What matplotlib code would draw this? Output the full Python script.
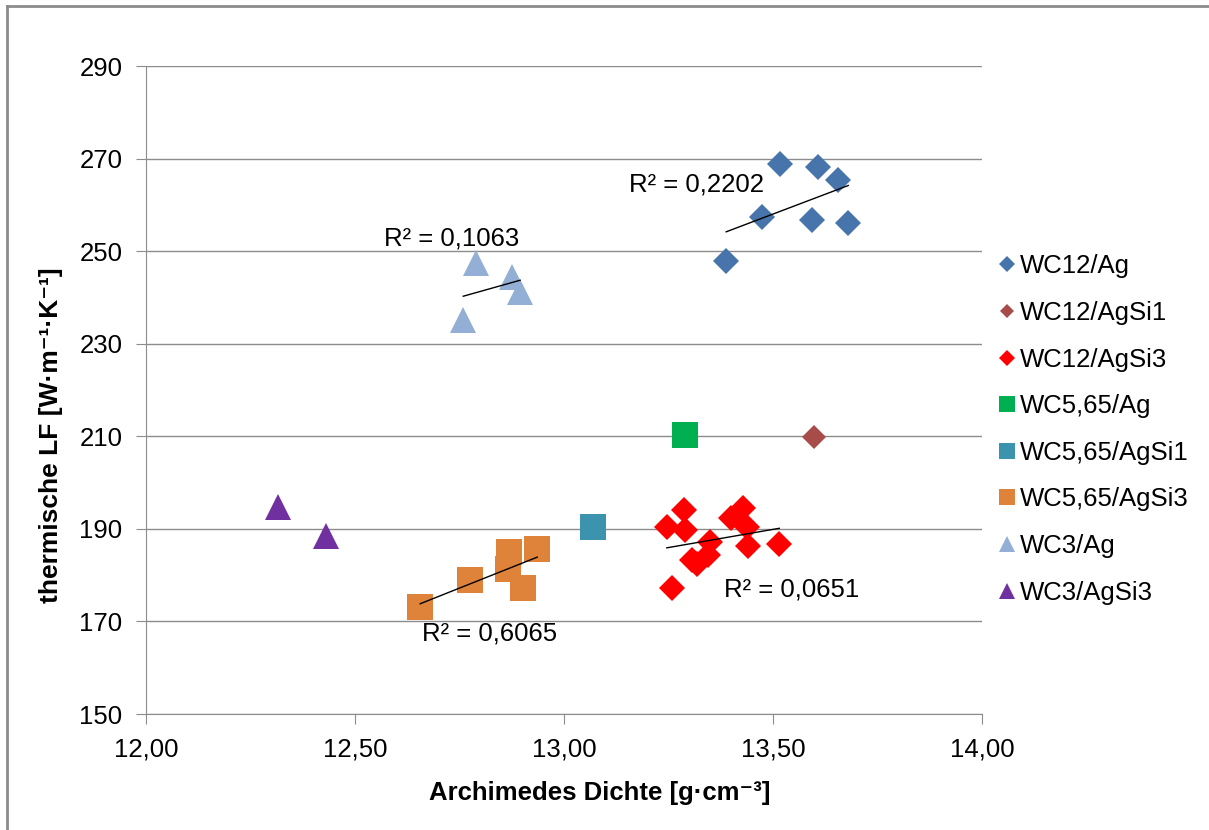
import numpy as np
import matplotlib.pyplot as plt
from matplotlib.lines import Line2D
from matplotlib.ticker import FuncFormatter

plt.rcParams['font.family'] = ['Liberation Sans', 'DejaVu Sans']

# data: (dichte, LF) per series
wc12_ag_x = [13.517, 13.608, 13.656, 13.473, 13.593, 13.680, 13.388]
wc12_ag_y = [268.8, 268.2, 265.4, 257.3, 256.7, 256.0, 247.9]

wc12_agsi1_x = [13.598]
wc12_agsi1_y = [209.9]

wc12_agsi3_x = [13.287, 13.246, 13.289, 13.349, 13.400, 13.428, 13.437,
                13.441, 13.515, 13.306, 13.345, 13.258, 13.318]
wc12_agsi3_y = [194.1, 190.3, 189.8, 187.2, 192.3, 194.6, 190.5,
                186.3, 186.7, 183.2, 184.4, 177.2, 182.4]

wc565_ag_x = [13.289]
wc565_ag_y = [210.3]

wc565_agsi1_x = [13.069]
wc565_agsi1_y = [190.3]

wc565_agsi3_x = [12.656, 12.775, 12.869, 12.867, 12.936, 12.903]
wc565_agsi3_y = [173.1, 179.0, 185.1, 181.3, 185.6, 177.3]

wc3_ag_x = [12.789, 12.875, 12.895, 12.759]
wc3_ag_y = [247.4, 244.5, 241.2, 235.1]

wc3_agsi3_x = [12.315, 12.431]
wc3_agsi3_y = [194.8, 188.4]

series = [
    ('WC12/Ag', wc12_ag_x, wc12_ag_y, 'D', '#4674AB', 13.5),
    ('WC12/AgSi1', wc12_agsi1_x, wc12_agsi1_y, 'D', '#A84C4A', 12.5),
    ('WC12/AgSi3', wc12_agsi3_x, wc12_agsi3_y, 'D', '#FF0000', 13.5),
    ('WC5,65/Ag', wc565_ag_x, wc565_ag_y, 's', '#00B050', 19),
    ('WC5,65/AgSi1', wc565_agsi1_x, wc565_agsi1_y, 's', '#3B93AD', 19),
    ('WC5,65/AgSi3', wc565_agsi3_x, wc565_agsi3_y, 's', '#DF833B', 19),
    ('WC3/Ag', wc3_ag_x, wc3_ag_y, '^', '#94AFD6', 19),
    ('WC3/AgSi3', wc3_agsi3_x, wc3_agsi3_y, '^', '#7030A0', 19),
]

# trendline labels as printed in the chart, with label positions
trend_series = ['WC12/Ag', 'WC3/Ag', 'WC12/AgSi3', 'WC5,65/AgSi3']
r2_labels = ['R² = 0,2202', 'R² = 0,1063', 'R² = 0,0651', 'R² = 0,6065']
r2_pos = [(13.318, 264.3), (12.732, 252.8), (13.545, 176.8), (12.821, 167.3)]

fig = plt.figure(figsize=(12.09, 8.30), dpi=100)
ax = fig.add_axes([146 / 1209, 1 - 714 / 830, 836 / 1209, 648 / 830])

handles = []
for name, xs, ys, mk, col, ms in series:
    ax.plot(xs, ys, linestyle='none', marker=mk, markersize=ms, color=col,
            markeredgewidth=0, zorder=3)
    handles.append(Line2D([], [], linestyle='none', marker=mk, color=col,
                          markeredgewidth=0, markersize=ms * 0.58, label=name))

lookup = {s[0]: s for s in series}
for name, txt, (tx, ty) in zip(trend_series, r2_labels, r2_pos):
    xs = np.array(lookup[name][1])
    ys = np.array(lookup[name][2])
    k, d = np.polyfit(xs, ys, 1)
    xx = np.array([xs.min(), xs.max()])
    ax.plot(xx, k * xx + d, color='black', linewidth=1, zorder=4)
    ax.text(tx, ty, txt, fontsize=18.5, ha='center', va='center', zorder=5)

ax.set_xlim(12, 14)
ax.set_ylim(150, 290)
ax.set_xticks(np.arange(12, 14.01, 0.5))
ax.set_yticks(np.arange(150, 291, 20))
ax.xaxis.set_major_formatter(FuncFormatter(lambda v, p: f'{v:.2f}'.replace('.', ',')))
ax.grid(axis='y', color='#8C8C8C', linewidth=1)
ax.set_axisbelow(True)
for s in ['top', 'right']:
    ax.spines[s].set_visible(False)
for s in ['left', 'bottom']:
    ax.spines[s].set_color('#8C8C8C')
ax.tick_params(axis='both', direction='out', length=7, color='#8C8C8C',
               labelsize=18.5, pad=10)

ax.text(0.543, -0.122, 'Archimedes Dichte [g·cm⁻³]', transform=ax.transAxes,
        fontsize=18.5, fontweight='bold', ha='center', va='center')
ax.text(-0.114, 0.43, 'thermische LF [W·m⁻¹·K⁻¹]', transform=ax.transAxes,
        fontsize=19, fontweight='bold', ha='center', va='center', rotation=90)

fig.legend(handles=handles, loc='center left', bbox_to_anchor=(997 / 1209, 1 - 429.5 / 830),
           frameon=False, fontsize=18.5, handlelength=0.8, handletextpad=0.1,
           borderpad=0, borderaxespad=0, labelspacing=0.88)

# grey outer frame (left and top edge visible in the screenshot)
fig.add_artist(Line2D([7 / 1209, 7 / 1209], [0, 1 - 6 / 830], color='#8C8C8C',
                      linewidth=2, transform=fig.transFigure))
fig.add_artist(Line2D([7 / 1209, 1], [1 - 6 / 830, 1 - 6 / 830], color='#8C8C8C',
                      linewidth=2, transform=fig.transFigure))

fig.savefig('out.png', dpi=100)
